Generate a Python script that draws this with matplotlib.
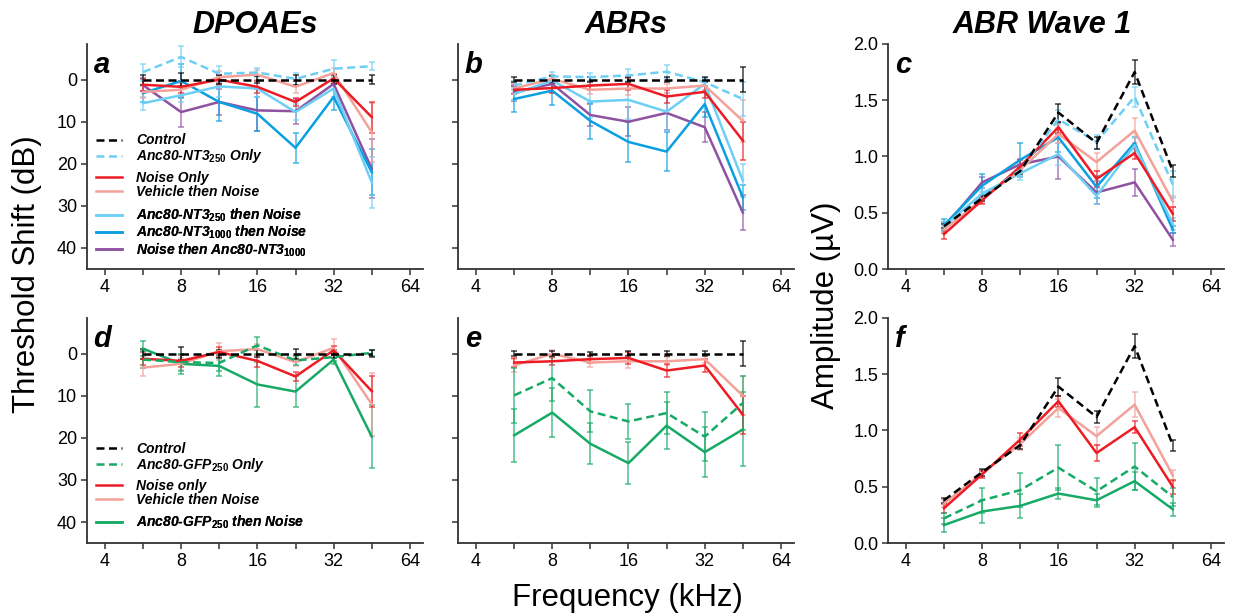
import matplotlib
matplotlib.use("Agg")
import matplotlib.pyplot as plt
from matplotlib.colors import to_rgba
from matplotlib.lines import Line2D
from matplotlib.ticker import FixedLocator, NullFormatter

plt.rcParams['font.family'] = ['Liberation Sans', 'DejaVu Sans']
plt.rcParams['mathtext.fontset'] = 'custom'
plt.rcParams['mathtext.it'] = 'Liberation Sans:italic:bold'
plt.rcParams['mathtext.rm'] = 'Liberation Sans:bold'
plt.rcParams['mathtext.default'] = 'it'

# frequencies (kHz)
freq = [5.66, 8, 11.31, 16, 22.63, 32, 45.25]
half_octaves = [5.66, 11.31, 22.63, 45.25]

# a: DPOAE threshold shift (dB), NT3 cohort
a_vals = {
    'control':   [0, 0, 0, 0, 0, 0, 0],
    'nt3_only':  [-1.8, -5.4, -1.4, -1.7, -0.2, -2.6, -3.2],
    'noise':     [1.2, 1.7, 0.0, 1.7, 5.3, -0.3, 8.9],
    'vehicle':   [2.9, 2.4, -0.6, -1.2, 1.7, -1.6, 12.5],
    'nt3_250':   [5.6, 3.7, 1.6, 2.1, 7.7, 2.1, 24.4],
    'nt3_1000':  [3.2, 0.3, 5.3, 8.1, 16.2, 4.1, 22.0],
    'noise_nt3': [1.3, 7.7, 5.3, 7.3, 7.5, 1.0, 21.2],
}
a_errs = {
    'control':   [1.2, 1.5, 1.0, 0.8, 1.2, 1.0, 1.0],
    'nt3_only':  [2.0, 2.5, 1.8, 1.0, 1.5, 2.0, 1.0],
    'noise':     [1.5, 1.5, 1.2, 1.5, 1.0, 1.0, 3.7],
    'vehicle':   [1.5, 1.5, 1.5, 1.2, 1.5, 1.2, 7.0],
    'nt3_250':   [1.5, 1.5, 2.5, 2.0, 2.0, 2.0, 6.0],
    'nt3_1000':  [2.0, 4.0, 4.5, 4.0, 3.5, 3.0, 5.5],
    'noise_nt3': [1.5, 3.5, 3.0, 5.0, 3.0, 1.5, 7.0],
}

# b: ABR threshold shift (dB), NT3 cohort
b_vals = {
    'control':   [0, 0, 0, 0, 0, 0, 0],
    'nt3_only':  [1.4, -0.8, -0.6, -1.0, -1.9, 0.6, 4.6],
    'noise':     [2.4, 2.0, 1.4, 1.0, 4.0, 2.9, 14.5],
    'vehicle':   [2.1, -0.2, 2.4, 2.1, 2.1, 1.4, 9.8],
    'nt3_250':   [3.4, 0.2, 5.2, 4.8, 7.6, 1.0, 24.0],
    'nt3_1000':  [4.6, 2.6, 9.8, 14.8, 17.1, 5.8, 28.0],
    'noise_nt3': [3.0, 1.0, 8.4, 10.0, 7.9, 11.3, 31.6],
}
b_errs = {
    'control':   [0.6, 0.8, 0.6, 0.6, 0.6, 0.6, 3.0],
    'nt3_only':  [1.0, 1.0, 1.0, 1.5, 1.5, 1.0, 4.0],
    'noise':     [1.0, 1.2, 1.0, 1.5, 1.5, 1.5, 4.5],
    'vehicle':   [1.0, 1.0, 1.0, 1.5, 1.0, 1.0, 5.0],
    'nt3_250':   [1.5, 1.0, 4.0, 4.5, 4.5, 1.5, 4.0],
    'nt3_1000':  [3.0, 3.5, 4.2, 4.7, 4.7, 3.0, 3.0],
    'noise_nt3': [2.0, 2.0, 2.5, 3.5, 4.0, 3.5, 4.2],
}

# c: ABR wave 1 amplitude (uV), NT3 cohort
c_vals = {
    'control':   [0.38, 0.63, 0.87, 1.39, 1.12, 1.75, 0.87],
    'nt3_only':  [0.38, 0.64, 0.88, 1.33, 1.13, 1.53, 0.75],
    'noise':     [0.31, 0.61, 0.91, 1.26, 0.80, 1.03, 0.49],
    'vehicle':   [0.35, 0.62, 0.88, 1.20, 0.95, 1.23, 0.60],
    'nt3_250':   [0.38, 0.67, 0.85, 1.02, 0.65, 1.10, 0.40],
    'nt3_1000':  [0.39, 0.74, 0.97, 1.17, 0.73, 1.12, 0.35],
    'noise_nt3': [0.37, 0.77, 0.93, 1.00, 0.68, 0.77, 0.26],
}
c_errs = {
    'control':   [0.02, 0.03, 0.03, 0.08, 0.05, 0.11, 0.05],
    'nt3_only':  [0.03, 0.04, 0.05, 0.08, 0.06, 0.09, 0.12],
    'noise':     [0.04, 0.03, 0.06, 0.05, 0.07, 0.05, 0.06],
    'vehicle':   [0.03, 0.03, 0.05, 0.08, 0.08, 0.11, 0.05],
    'nt3_250':   [0.04, 0.05, 0.06, 0.10, 0.07, 0.06, 0.05],
    'nt3_1000':  [0.05, 0.10, 0.15, 0.13, 0.10, 0.05, 0.03],
    'noise_nt3': [0.05, 0.05, 0.05, 0.20, 0.10, 0.12, 0.06],
}

# d: DPOAE threshold shift (dB), GFP cohort
d_vals = {
    'control':   [0, 0, 0, 0, 0, 0, 0],
    'gfp_only':  [1.4, 2.0, 2.2, -2.0, 1.6, 0.8, -0.2],
    'noise':     [1.2, 1.7, -0.4, 1.7, 5.4, -0.8, 8.9],
    'vehicle':   [3.3, 2.4, -0.6, -1.1, 2.0, -1.4, 12.0],
    'gfp_noise': [-1.2, 2.4, 2.9, 7.3, 9.0, 1.4, 19.7],
}
d_errs = {
    'control':   [1.2, 1.5, 1.0, 0.8, 1.2, 1.0, 0.8],
    'gfp_only':  [2.0, 2.0, 2.0, 2.0, 1.0, 1.0, 0.8],
    'noise':     [1.5, 1.5, 1.2, 1.5, 1.0, 1.0, 3.7],
    'vehicle':   [2.0, 1.5, 2.0, 1.2, 1.0, 2.0, 7.5],
    'gfp_noise': [1.8, 2.4, 2.5, 5.3, 3.6, 1.0, 7.5],
}

# e: ABR threshold shift (dB), GFP cohort
e_vals = {
    'control':   [0, 0, 0, 0, 0, 0, 0],
    'gfp_only':  [9.9, 5.8, 13.7, 16.1, 14.1, 19.7, 11.7],
    'noise':     [2.1, 1.8, 1.3, 1.0, 4.0, 2.8, 14.5],
    'vehicle':   [2.8, 0.0, 2.1, 1.8, 1.8, 1.3, 10.0],
    'gfp_noise': [19.4, 14.0, 21.4, 26.0, 17.1, 23.4, 18.0],
}
e_errs = {
    'control':   [0.6, 0.6, 0.5, 0.6, 0.6, 0.6, 3.0],
    'gfp_only':  [6.5, 5.5, 5.0, 4.2, 5.0, 5.8, 6.5],
    'noise':     [1.0, 1.0, 1.0, 1.5, 1.5, 1.5, 4.5],
    'vehicle':   [1.5, 1.0, 1.0, 1.5, 1.0, 1.0, 4.6],
    'gfp_noise': [6.3, 5.8, 4.9, 5.0, 5.6, 6.0, 8.8],
}

# f: ABR wave 1 amplitude (uV), GFP cohort
f_vals = {
    'control':   [0.38, 0.63, 0.87, 1.39, 1.12, 1.75, 0.87],
    'gfp_only':  [0.22, 0.38, 0.47, 0.67, 0.46, 0.68, 0.41],
    'noise':     [0.31, 0.61, 0.92, 1.26, 0.80, 1.03, 0.50],
    'vehicle':   [0.35, 0.62, 0.88, 1.20, 0.95, 1.23, 0.60],
    'gfp_noise': [0.16, 0.28, 0.33, 0.44, 0.38, 0.55, 0.30],
}
f_errs = {
    'control':   [0.02, 0.03, 0.03, 0.08, 0.05, 0.11, 0.05],
    'gfp_only':  [0.05, 0.11, 0.15, 0.20, 0.12, 0.21, 0.08],
    'noise':     [0.04, 0.03, 0.06, 0.05, 0.07, 0.05, 0.06],
    'vehicle':   [0.03, 0.03, 0.05, 0.08, 0.08, 0.11, 0.05],
    'gfp_noise': [0.06, 0.10, 0.11, 0.05, 0.06, 0.08, 0.06],
}

DASH = (0, (3.2, 1.8))
styles = {
    'control':   ('#000000', DASH),
    'nt3_only':  ('#6DCFF6', DASH),
    'noise':     ('#ED1C24', '-'),
    'vehicle':   ('#F4A19A', '-'),
    'nt3_250':   ('#6DCFF6', '-'),
    'nt3_1000':  ('#0A9FE0', '-'),
    'noise_nt3': ('#8E52A1', '-'),
    'gfp_only':  ('#16AA66', DASH),
    'gfp_noise': ('#16AA66', '-'),
}

nt3_groups = [['control', 'nt3_only'], ['noise', 'vehicle'],
              ['nt3_250', 'nt3_1000', 'noise_nt3']]
nt3_labels = [['Control', 'Anc80-NT3$_{250}$ Only'],
              ['Noise Only', 'Vehicle then Noise'],
              ['Anc80-NT3$_{250}$ then Noise', 'Anc80-NT3$_{1000}$ then Noise',
               'Noise then Anc80-NT3$_{1000}$']]
gfp_groups = [['control', 'gfp_only'], ['noise', 'vehicle'], ['gfp_noise']]
gfp_labels = [['Control', 'Anc80-GFP$_{250}$ Only'],
              ['Noise only', 'Vehicle then Noise'],
              ['Anc80-GFP$_{250}$ then Noise']]

SPINE = '#333333'


def draw_panel(ax, vals, errs, order):
    # draw in reverse order so the first groups end up on top
    for key in reversed(order):
        color, ls = styles[key]
        ax.errorbar(freq, vals[key], yerr=errs[key], color=color, ls=ls, lw=1.8,
                    ecolor=to_rgba(color, 0.75), elinewidth=1.1, capsize=2.3,
                    capthick=1.1)


def style_axis(ax, letter, kind, show_ylabels):
    ax.set_xscale('log', base=2)
    ax.set_xlim(3.4, 72)
    ax.xaxis.set_major_locator(FixedLocator([4, 8, 16, 32, 64]))
    ax.set_xticklabels(['4', '8', '16', '32', '64'])
    ax.xaxis.set_minor_locator(FixedLocator(half_octaves))
    ax.xaxis.set_minor_formatter(NullFormatter())
    if kind == 'shift':
        ax.set_ylim(45, -8.5)
        ax.set_yticks([0, 10, 20, 30, 40])
    else:
        ax.set_ylim(0, 2.0)
        ax.set_yticks([0.0, 0.5, 1.0, 1.5, 2.0])
        ax.set_yticklabels(['0.0', '0.5', '1.0', '1.5', '2.0'])
    if not show_ylabels:
        ax.set_yticklabels([])
    for s in ['top', 'right']:
        ax.spines[s].set_visible(False)
    for s in ['left', 'bottom']:
        ax.spines[s].set_color(SPINE)
        ax.spines[s].set_linewidth(1.3)
    ax.tick_params(which='both', direction='out', length=4, width=1.1,
                   color=SPINE, labelsize=13, pad=3)
    ax.text(0.02, 0.97, letter, transform=ax.transAxes, fontsize=21,
            fontweight='bold', fontstyle='italic', va='top', ha='left')


def add_legends(ax, groups, labels, tops):
    for grp, labs, top in zip(groups, labels, tops):
        handles = [Line2D([], [], color=styles[k][0], ls=styles[k][1], lw=1.8)
                   for k in grp]
        leg = ax.legend(handles, labs, loc='upper left', bbox_to_anchor=(0.027, top),
                        frameon=False, borderpad=0, borderaxespad=0,
                        labelspacing=0.0, handlelength=1.9, handletextpad=1.0,
                        prop={'size': 10, 'weight': 'bold', 'style': 'italic'})
        ax.add_artist(leg)


fig = plt.figure(figsize=(12.35, 6.15), dpi=100)

lefts = [0.0704, 0.3709, 0.719]
w = 0.272
h = 0.366
row_bottoms = [0.5626, 0.117]

axes = {}
for r, bottom in enumerate(row_bottoms):
    for c, left in enumerate(lefts):
        axes[(r, c)] = fig.add_axes([left, bottom, w, h])

nt3_order = [k for g in nt3_groups for k in g]
gfp_order = [k for g in gfp_groups for k in g]

draw_panel(axes[(0, 0)], a_vals, a_errs, nt3_order)
draw_panel(axes[(0, 1)], b_vals, b_errs, nt3_order)
draw_panel(axes[(0, 2)], c_vals, c_errs, nt3_order)
draw_panel(axes[(1, 0)], d_vals, d_errs, gfp_order)
draw_panel(axes[(1, 1)], e_vals, e_errs, gfp_order)
draw_panel(axes[(1, 2)], f_vals, f_errs, gfp_order)

style_axis(axes[(0, 0)], 'a', 'shift', True)
style_axis(axes[(0, 1)], 'b', 'shift', False)
style_axis(axes[(0, 2)], 'c', 'amp', True)
style_axis(axes[(1, 0)], 'd', 'shift', True)
style_axis(axes[(1, 1)], 'e', 'shift', False)
style_axis(axes[(1, 2)], 'f', 'amp', True)

add_legends(axes[(0, 0)], nt3_groups, nt3_labels, [0.602, 0.435, 0.278])
add_legends(axes[(1, 0)], gfp_groups, gfp_labels, [0.449, 0.285, 0.13])

titles = ['DPOAEs', 'ABRs', 'ABR Wave 1']
title_x = [0.5, 0.5, 0.46]
for c, t in enumerate(titles):
    axes[(0, c)].set_title(t, fontsize=22, fontweight='bold', fontstyle='italic',
                           pad=8, x=title_x[c])

fig.text(0.022, 0.555, 'Threshold Shift (dB)', rotation=90, fontsize=22.5,
         ha='center', va='center')
fig.text(0.669, 0.503, 'Amplitude (µV)', rotation=90, fontsize=22.5,
         ha='center', va='center')
fig.text(0.508, 0.028, 'Frequency (kHz)', fontsize=22.5, ha='center', va='center')

fig.savefig('out.png', dpi=100)
